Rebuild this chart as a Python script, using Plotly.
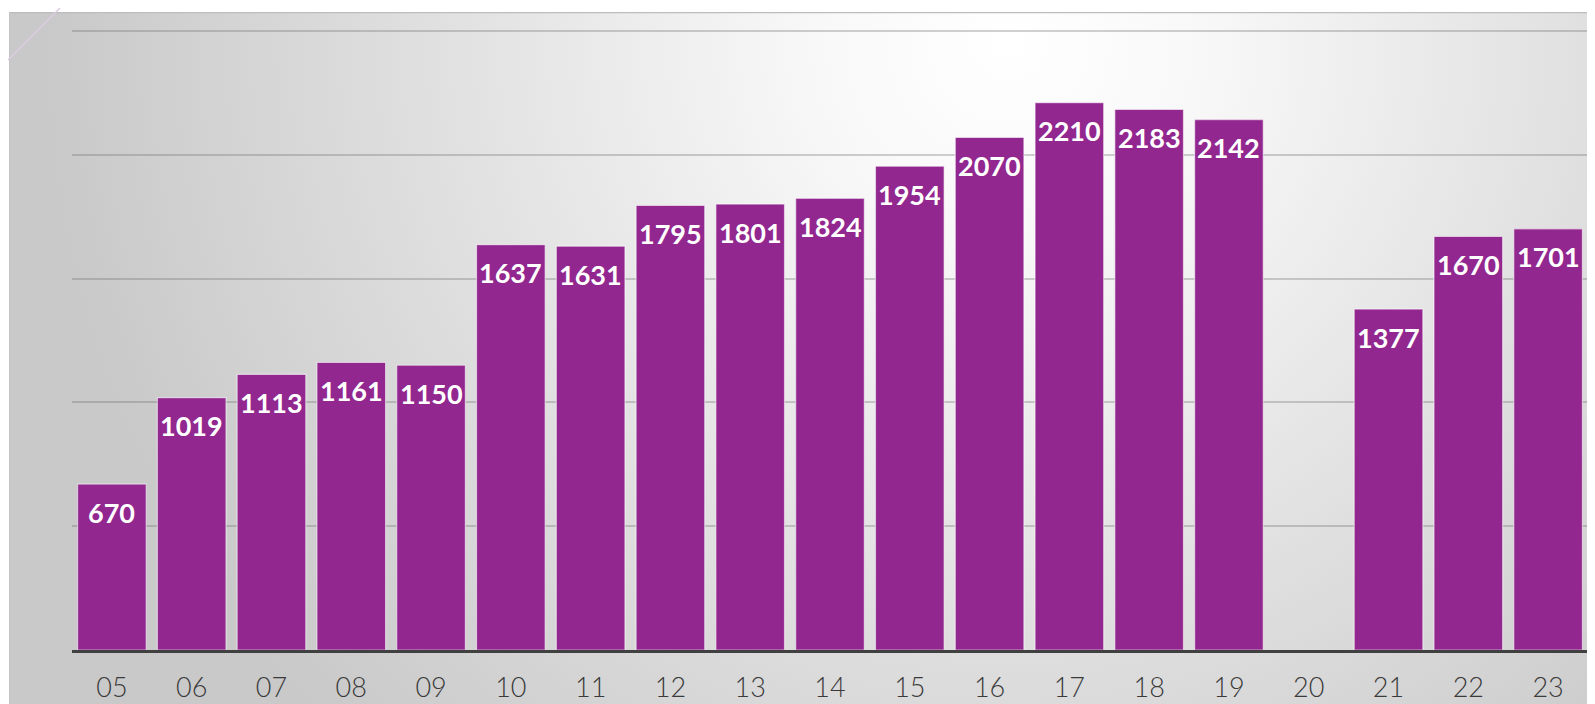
import base64
import plotly.graph_objects as go

categories = ["05", "06", "07", "08", "09", "10", "11", "12", "13", "14",
              "15", "16", "17", "18", "19", "20", "21", "22", "23"]
values = [670, 1019, 1113, 1161, 1150, 1637, 1631, 1795, 1801, 1824,
          1954, 2070, 2210, 2183, 2142, None, 1377, 1670, 1701]

# page has an 8px body margin, so the figure is 8px smaller on each axis
W, H = 1587, 696
L, R, T, B = 64, 7, 18, 54
PW, PH = W - L - R, H - T - B


def px(x):
    return (x - L) / PW


def py(y):
    return (H - B - y) / PH


BAR = "#92278F"

svg = f"""<svg xmlns='http://www.w3.org/2000/svg' width='1586' height='692' viewBox='0 0 1586 692' preserveAspectRatio='none'>
<defs>
<radialGradient id='g' gradientUnits='userSpaceOnUse' cx='1000' cy='30' r='960'>
<stop offset='0' stop-color='#ffffff'/>
<stop offset='0.2' stop-color='#f8f8f8'/>
<stop offset='0.6' stop-color='#e0e0e0'/>
<stop offset='1' stop-color='#c9c9c9'/>
</radialGradient>
</defs>
<rect x='0' y='0' width='1586' height='692' fill='url(#g)'/>
<line x1='0' y1='0.5' x2='1586' y2='0.5' stroke='#bdbdbd' stroke-width='1.5'/>
<line x1='0.5' y1='0' x2='0.5' y2='692' stroke='#c4c4c4' stroke-width='1'/>
</svg>"""
src = "data:image/svg+xml;base64," + base64.b64encode(svg.encode()).decode()

idx = list(range(len(categories)))

fig = go.Figure()
fig.add_trace(go.Bar(
    x=idx, y=values,
    marker=dict(color=BAR, line=dict(color="rgba(255,255,255,0.55)", width=1.2)),
    hovertext=categories, hoverinfo="text+y",
))

annotations = []
for i, v in zip(idx, values):
    if v is None:
        continue
    annotations.append(dict(
        x=i, y=v, xref="x", yref="y", text=str(v), showarrow=False,
        yanchor="middle", yshift=-28,
        font=dict(family="Lato, 'Open Sans', sans-serif", size=27, color="white", weight="bold"),
    ))

fig.update_layout(
    width=W, height=H,
    margin=dict(l=L, r=R, t=T, b=B, autoexpand=False),
    paper_bgcolor="white",
    plot_bgcolor="rgba(0,0,0,0)",
    bargap=0.14,
    showlegend=False,
    annotations=annotations,
    images=[dict(
        source=src, xref="paper", yref="paper",
        x=px(1), y=py(4), sizex=px(W) - px(1), sizey=py(4) - py(H),
        xanchor="left", yanchor="top", sizing="stretch", layer="below",
    )],
    shapes=[
        dict(type="line", xref="paper", yref="paper",
             x0=px(0), y0=py(52), x1=px(52), y1=py(0),
             line=dict(color="#d9cce3", width=1.5)),
    ],
    xaxis=dict(
        range=[-0.5, 18.5], automargin=False,
        tickmode="array", tickvals=idx, ticktext=categories,
        showline=True, linecolor="#404040", linewidth=3,
        showgrid=False, zeroline=False, ticks="",
        tickfont=dict(family="Lato, 'Open Sans', sans-serif", size=27, color="#3a3a3a", weight=300),
        ticklabelstandoff=12,
    ),
    yaxis=dict(
        range=[0, 2520], automargin=False,
        tickmode="array", tickvals=[0, 500, 1000, 1500, 2000, 2500],
        showgrid=True,
        gridcolor="rgba(110,110,110,0.32)", gridwidth=2,
        zeroline=False, showticklabels=False, ticks="",
    ),
)

fig.write_html("out.html")
